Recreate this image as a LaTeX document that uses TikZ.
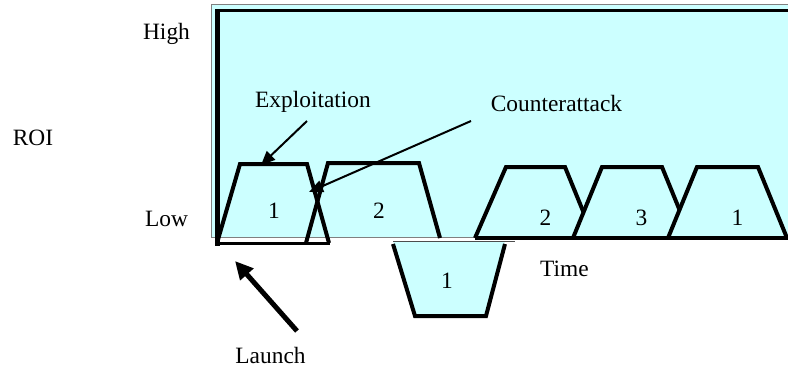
\documentclass[tikz,border=0pt]{standalone}
\usepackage{fontspec}
\setmainfont{Liberation Serif}
\usepackage{tikz}
\usetikzlibrary{arrows.meta,positioning}
\usepackage{xcolor}
\definecolor{roicyan}{RGB}{204,255,255}
\definecolor{edgegray}{RGB}{128,128,128}

\begin{document}
\begin{tikzpicture}[x=1pt,y=-1pt,font=\fontsize{23.4}{28}\selectfont,
lbl/.style={anchor=base,inner sep=0pt},
phase/.style={line width=4pt,line join=miter},
pointer/.style={line width=2pt,-{Triangle[length=14pt,width=12pt]}}]
\useasboundingbox (0,0) rectangle (788,368);
\draw[edgegray,line width=1pt,fill=roicyan] (211,4) rectangle (792,237);
\draw[line width=5pt] (217.5,245.5)--(217.5,9.2);
\draw[line width=3pt] (215,10.7)--(792,10.7);
\draw[phase] (217,243)--(240,164)--(307,164)--(329,243);
\draw[line width=3.5pt] (217,243.5)--(330,243.5);
\draw[phase] (306,243)--(328,163)--(419,163)--(440,238);
\fill[roicyan] (393,241)--(415,316)--(486,316)--(505,241)--cycle;
\draw[edgegray!60!black,line width=1pt] (393,241)--(515,241);
\draw[phase] (393,244)--(415,316)--(486,316)--(505,244);
\filldraw[phase,fill=roicyan] (475,238)--(506,167)--(565,167)--(594,238);
\filldraw[phase,fill=roicyan] (573,238)--(602,167)--(662,167)--(691,238);
\filldraw[phase,fill=roicyan] (668,238)--(697,167)--(758,167)--(787,238);
\draw[line width=4pt] (475,238)--(789,238);
\node[lbl] (high) at (166.5,39) {High};
\node[lbl] (roi) at (33,145) {ROI};
\node[lbl] (low) at (166.5,226) {Low};
\node[lbl] (expl) at (313,107) {Exploitation};
\node[lbl] (counter) at (556.5,111) {Counterattack};
\node[lbl] (launch) at (270.5,363) {Launch};
\node[lbl] (time) at (564.5,276) {Time};
\node[lbl] (ph1) at (274,218) {1};
\node[lbl] (ph2) at (379,218) {2};
\node[lbl] (dip1) at (447,288) {1};
\node[lbl] (re2) at (545.5,225) {2};
\node[lbl] (re3) at (641.5,225) {3};
\node[lbl] (re1) at (737.5,225) {1};
\coordinate (expltail) at (307,121);
\coordinate (expltip) at (261,165);
\coordinate (countertail) at (471,121);
\coordinate (countertip) at (309,192);
\coordinate (launchtail) at (297,331);
\coordinate (launchtip) at (235,261);
\draw[pointer] (expltail)--(expltip);
\draw[pointer] (countertail)--(countertip);
\draw[line width=5pt,-{Triangle[length=18pt,width=17pt]}] (launchtail)--(launchtip);
\end{tikzpicture}
\end{document}
